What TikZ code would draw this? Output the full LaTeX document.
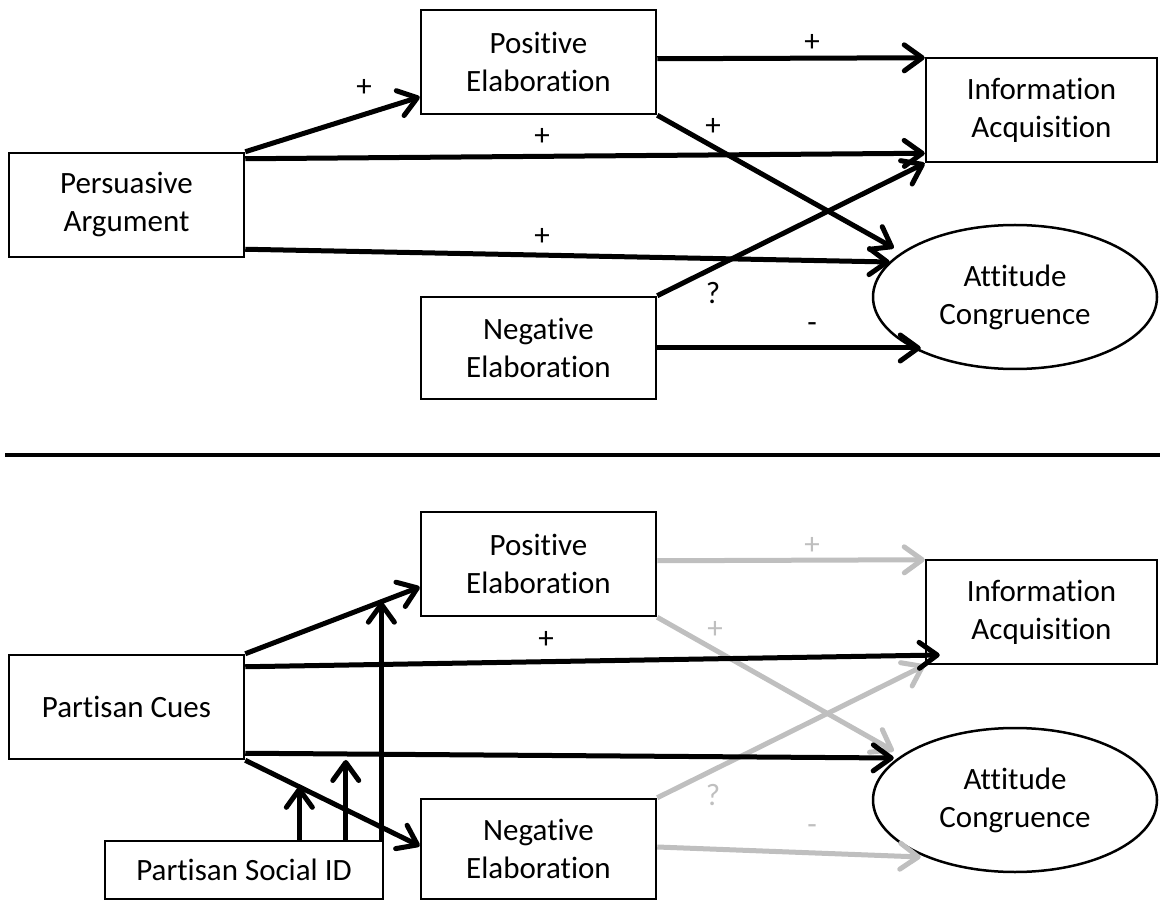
\documentclass[tikz,border=0pt]{standalone}
\usepackage{fontspec}
\setmainfont{Carlito}[Ligatures=NoCommon]
\usetikzlibrary{arrows.meta,shapes.geometric,calc}
\definecolor{fadegray}{RGB}{191,191,191}

\begin{document}
\begin{tikzpicture}[x=1pt,y=-1pt,
    every node/.style={font=\fontsize{31}{38}\selectfont},
    varbox/.style={draw, line width=2.5pt, inner sep=0pt, align=center,
        minimum width=235pt, minimum height=104pt},
    varoval/.style={draw, ellipse, line width=2.5pt, inner sep=0pt, align=center,
        minimum width=284pt, minimum height=144pt},
    effect/.style={line width=5pt, -{Straight Barb[length=18pt,width=26pt,round]}},
    weakeffect/.style={effect, draw=fadegray},
    weaksign/.style={text=fadegray}]
    \useasboundingbox (0,0) rectangle (1160,901);

    % Upper model
    \node[varbox] (pos1) at (538.5,62) {Positive\\Elaboration};
    \node[varbox, minimum width=231pt] (info1) at (1041.5,110) {Information\\Acquisition};
    \node[varbox] (pers) at (126.5,205) {Persuasive\\Argument};
    \node[varoval] (att1) at (1015,297) {Attitude\\Congruence};
    \node[varbox, minimum height=102pt] (neg1) at (538.5,348) {Negative\\Elaboration};

    \draw[effect] (pers.north east) -- ($(pos1.west)+(0,35)$);
    \draw[effect] ($(pers.north east)+(0,7)$) -- ($(info1.south west)+(0,-10)$);
    \draw[effect] ($(pers.south east)+(0,-9)$) -- ($(att1.west)+(18,-35)$);
    \draw[effect] ($(pos1.north east)+(0,50)$) -- ($(info1.north west)+(0,1)$);
    \draw[effect] (pos1.south east) -- ($(att1.west)+(22,-49)$);
    \draw[effect] (neg1.north east) -- (info1.south west);
    \draw[effect] (neg1.east) -- ($(att1.west)+(49,51)$);

    % Signs
    \node (sg1) at (364,88) {+};
    \node (sg2) at (542,137) {+};
    \node (sg3) at (542,237) {+};
    \node (sg4) at (812,43) {+};
    \node (sg5) at (713,127) {+};
    \node (sg6) at (713,293) {?};
    \node (sg7) at (812,328) {-};

    % Divider
    \draw[line width=4pt] (5,455) -- (1160,455);

    % Lower model
    \node[varbox] (pos2) at (538.5,564) {Positive\\Elaboration};
    \node[varbox, minimum width=231pt] (info2) at (1041.5,612) {Information\\Acquisition};
    \node[varbox] (cues) at (126.5,707) {Partisan Cues};
    \node[varoval] (att2) at (1015,800) {Attitude\\Congruence};
    \node[varbox, minimum height=100pt] (neg2) at (538.5,849) {Negative\\Elaboration};
    \node[varbox, minimum width=278pt, minimum height=58pt] (sid) at (244,870) {Partisan Social ID};

    \draw[weakeffect] ($(pos2.north east)+(0,50)$) -- ($(info2.north west)+(0,1)$);
    \draw[weakeffect] (pos2.south east) -- ($(att2.west)+(22,-49)$);
    \draw[weakeffect] (neg2.north east) -- (info2.south west);
    \draw[weakeffect] ($(neg2.east)+(0,-2)$) -- ($(att2.west)+(49,57)$);

    \draw[effect] (cues.north east) -- ($(pos2.west)+(0,23)$);
    \draw[effect] ($(cues.north east)+(0,13)$) -- ($(info2.west)+(15,43)$);
    \draw[effect] ($(cues.south east)+(0,-7)$) -- ($(att2.west)+(22,-42)$);
    \draw[effect] (cues.south east) -- ($(neg2.west)+(0,-3)$);

    % Moderation by social ID
    \path (cues.south east) -- ($(neg2.west)+(0,-3)$) coordinate[pos=0.31] (mod1);
    \path ($(cues.south east)+(0,-7)$) -- ($(att2.west)+(22,-42)$) coordinate[pos=0.155] (mod2);
    \path (cues.north east) -- ($(pos2.west)+(0,23)$) coordinate[pos=0.78] (mod3);
    \draw[effect] (sid.north -| mod1) -- (mod1);
    \draw[effect, shorten >=6pt] (sid.north -| mod2) -- (mod2);
    \draw[effect] (sid.north -| mod3) -- (mod3);

    % Signs
    \node (sg8) at (546,640) {+};
    \node[weaksign] (sg9) at (812,546) {+};
    \node[weaksign] (sg10) at (715,630) {+};
    \node[weaksign] (sg11) at (713,795) {?};
    \node[weaksign] (sg12) at (812,830) {-};
\end{tikzpicture}
\end{document}
